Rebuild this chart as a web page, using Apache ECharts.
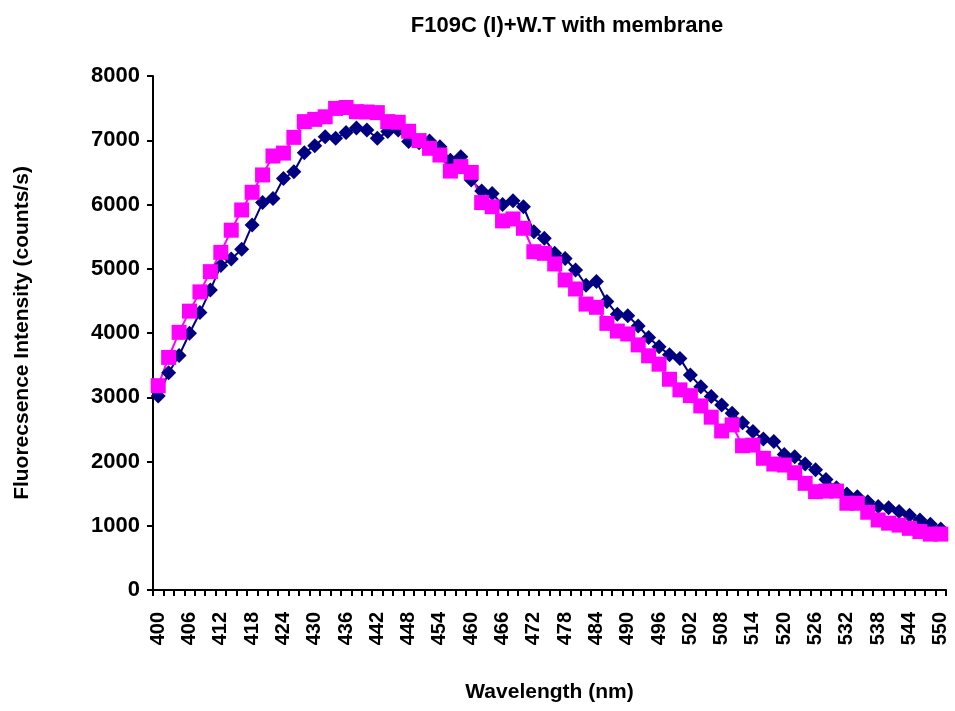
<!DOCTYPE html>
<html>
<head>
<meta charset="utf-8">
<script src="https://cdn.jsdelivr.net/npm/echarts@6/dist/echarts.min.js"></script>
<style>
html,body{margin:0;padding:0;background:#fff;}
#chart{width:955px;height:711px;}
</style>
</head>
<body>
<div id="chart"></div>
<script>
// Wavelengths 400..550 nm, step 2
var wavelengths = [400,402,404,406,408,410,412,414,416,418,420,422,424,426,428,430,432,434,436,438,440,442,444,446,448,450,452,454,456,458,460,462,464,466,468,470,472,474,476,478,480,482,484,486,488,490,492,494,496,498,500,502,504,506,508,510,512,514,516,518,520,522,524,526,528,530,532,534,536,538,540,542,544,546,548,550];

// Navy series (diamonds)
var seriesNavy = [3020,3380,3650,3995,4320,4670,5050,5150,5305,5680,6030,6095,6405,6510,6805,6915,7055,7030,7120,7190,7160,7030,7135,7160,6980,6960,6990,6900,6690,6745,6380,6210,6170,6000,6060,5965,5575,5475,5240,5160,4980,4745,4800,4490,4290,4270,4110,3930,3785,3660,3605,3345,3165,3010,2880,2750,2605,2465,2350,2310,2110,2075,1960,1870,1720,1590,1495,1450,1375,1300,1280,1220,1165,1090,1025,950];

// Magenta series (squares)
var seriesPink = [3180,3620,4010,4340,4640,4955,5255,5600,5915,6190,6460,6755,6800,7045,7290,7325,7365,7495,7510,7445,7440,7430,7290,7280,7140,6995,6875,6770,6520,6590,6500,6030,5965,5745,5775,5630,5265,5240,5075,4825,4685,4450,4400,4150,4030,3985,3815,3645,3515,3280,3115,3025,2865,2690,2475,2570,2245,2255,2050,1960,1945,1825,1660,1530,1540,1540,1350,1350,1210,1090,1040,1010,960,910,870,870];

var yTicks = [0,1000,2000,3000,4000,5000,6000,7000,8000];

var chart = echarts.init(document.getElementById('chart'), null, {renderer:'canvas'});
var fontFam = '"Liberation Sans", Arial, sans-serif';
chart.setOption({
  animation:false,
  backgroundColor:'#ffffff',
  title:{
    text:'F109C (I)+W.T with membrane',
    left:562, top:10, textAlign:'center',
    textStyle:{fontFamily:fontFam, fontWeight:'bold', fontSize:22, color:'#000'}
  },
  grid:{left:153, top:76, right:9, bottom:121, containLabel:false},
  xAxis:{
    type:'category',
    data:wavelengths.map(String),
    boundaryGap:true,
    name:'Wavelength (nm)',
    nameLocation:'middle',
    nameGap:92,
    nameTextStyle:{fontFamily:fontFam, fontWeight:'bold', fontSize:21, color:'#000'},
    axisLine:{lineStyle:{color:'#000', width:2}},
    axisTick:{show:true, interval:0, length:6, lineStyle:{color:'#000', width:2}},
    axisLabel:{interval:2, rotate:90, margin:22, fontFamily:fontFam, fontWeight:'bold', fontSize:20, color:'#000'},
    splitLine:{show:false}
  },
  yAxis:{
    type:'value',
    min:0, max:8000, interval:1000,
    name:'Fluorecsence Intensity (counts/s)',
    nameLocation:'middle',
    nameGap:120,
    nameRotate:90,
    nameTextStyle:{fontFamily:fontFam, fontWeight:'bold', fontSize:21, color:'#000'},
    axisLine:{show:true, lineStyle:{color:'#000', width:2}},
    axisTick:{show:true, length:6, lineStyle:{color:'#000', width:2}},
    axisLabel:{margin:13, fontFamily:fontFam, fontWeight:'bold', fontSize:22, color:'#000',
      formatter:function(v){ return yTicks.indexOf(v) >= 0 ? String(v) : ''; }},
    splitLine:{show:false}
  },
  series:[
    {
      type:'line', data:seriesNavy,
      showSymbol:true, showAllSymbol:true,
      symbol:'diamond', symbolSize:15,
      lineStyle:{color:'#000080', width:2},
      itemStyle:{color:'#000080'}
    },
    {
      type:'line', data:seriesPink,
      showSymbol:true, showAllSymbol:true,
      symbol:'rect', symbolSize:15,
      lineStyle:{color:'#ff00ff', width:2},
      itemStyle:{color:'#ff00ff'}
    }
  ]
});
</script>
</body>
</html>
